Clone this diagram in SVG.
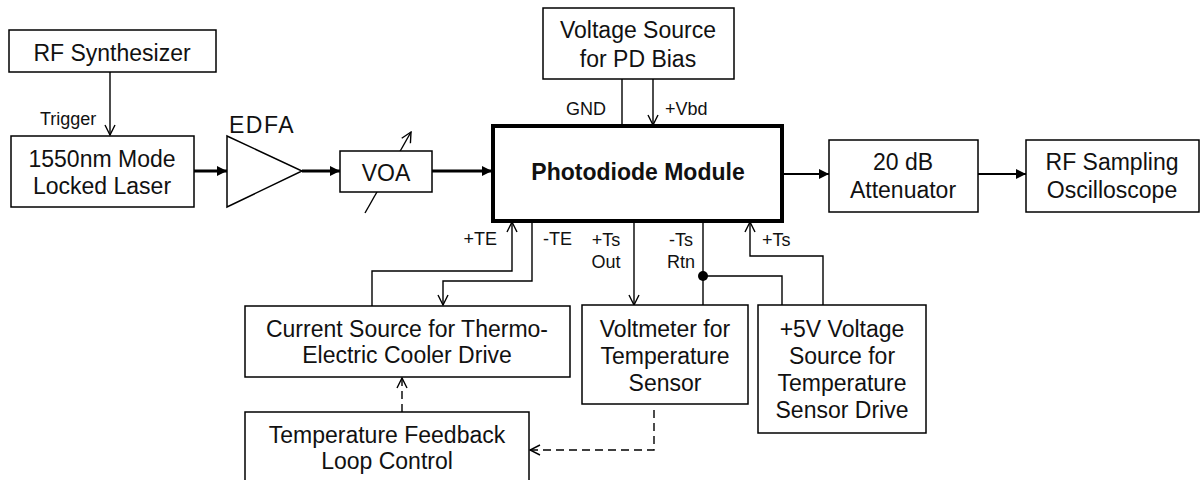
<svg xmlns="http://www.w3.org/2000/svg" width="1200" height="480" viewBox="0 0 1200 480">
<defs>
<style>
.box{fill:#fff;stroke:#000;stroke-width:1.5}
.pd{fill:#fff;stroke:#000;stroke-width:4}
.t{font-family:"Liberation Sans",Arial,sans-serif;font-size:23px;fill:#111;text-anchor:middle}
.b{font-weight:bold}
.s{font-family:"Liberation Sans",Arial,sans-serif;font-size:18px;fill:#111}
.w{fill:none;stroke:#000;stroke-width:1.4}
.sig{fill:none;stroke:#000;stroke-width:3}
.sig2{fill:none;stroke:#000;stroke-width:2}
.dash{fill:none;stroke:#000;stroke-width:1.4;stroke-dasharray:8,5}
</style>
<marker id="open" viewBox="0 0 12 12" refX="11" refY="6" markerWidth="12" markerHeight="12" markerUnits="userSpaceOnUse" orient="auto">
<path d="M1,1 L11,6 L1,11" fill="none" stroke="#000" stroke-width="1.4"/>
</marker>
<marker id="fill" viewBox="0 0 10 10" refX="10" refY="5" markerWidth="11" markerHeight="10" markerUnits="userSpaceOnUse" orient="auto">
<path d="M0,0 L10,5 L0,10 z" fill="#000"/>
</marker>
</defs>
<rect width="1200" height="480" fill="#fff"/>

<g id="connectors">
<line class="w" x1="110" y1="72" x2="110" y2="135" marker-end="url(#open)"/>
<line class="sig" x1="194" y1="171" x2="227" y2="171" marker-end="url(#fill)"/>
<line class="sig" x1="302" y1="171" x2="340" y2="171" marker-end="url(#fill)"/>
<line class="sig" x1="432" y1="171" x2="492" y2="171" marker-end="url(#fill)"/>
<line class="w" x1="365" y1="213" x2="411" y2="132" marker-end="url(#open)"/>
<line class="sig2" x1="783" y1="174" x2="829" y2="174" marker-end="url(#fill)"/>
<line class="sig2" x1="978" y1="174" x2="1026" y2="174" marker-end="url(#fill)"/>
<line class="w" x1="622" y1="79" x2="622" y2="126"/>
<line class="w" x1="653" y1="79" x2="653" y2="125" marker-end="url(#open)"/>
<polyline class="w" points="372,306 372,271 512,271 512,222" marker-end="url(#open)"/>
<polyline class="w" points="532,221 532,281 443,281 443,305" marker-end="url(#open)"/>
<line class="w" x1="634" y1="221" x2="634" y2="305" marker-end="url(#open)"/>
<line class="w" x1="703" y1="221" x2="703" y2="305"/>
<polyline class="w" points="703,276 782,276 782,305"/>
<circle cx="703" cy="276" r="5" fill="#000"/>
<polyline class="w" points="823,305 823,256 750,256 750,222" marker-end="url(#open)"/>
<line class="dash" x1="402" y1="412" x2="402" y2="378" marker-end="url(#open)"/>
<polyline class="dash" points="654,410 654,450 530,450" marker-end="url(#open)"/>
</g>

<g id="rf-synth">
<rect class="box" x="9" y="30" width="207" height="42"/>
<text class="t" x="112" y="61">RF Synthesizer</text>
</g>
<text class="s" x="40" y="125">Trigger</text>

<g id="laser">
<rect class="box" x="11" y="136" width="183" height="71"/>
<text class="t" x="102" y="167">1550nm Mode</text>
<text class="t" x="102" y="194">Locked Laser</text>
</g>

<g id="edfa">
<polygon class="box" points="227,136 227,207 302,171"/>
<text class="t" x="262" y="133" style="font-size:23px;letter-spacing:1.5px">EDFA</text>
</g>

<g id="voa">
<rect class="box" x="340" y="151" width="92" height="41"/>
<text class="t" x="386" y="181">VOA</text>
</g>

<g id="pd-bias">
<rect class="box" x="543" y="8" width="191" height="71"/>
<text class="t" x="638" y="38">Voltage Source</text>
<text class="t" x="638" y="67">for PD Bias</text>
</g>
<text class="s" x="606" y="115" text-anchor="end">GND</text>
<text class="s" x="665" y="115">+Vbd</text>

<g id="photodiode">
<rect class="pd" x="493" y="126" width="289" height="95"/>
<text class="t b" x="638" y="180">Photodiode Module</text>
</g>

<g id="attenuator">
<rect class="box" x="829" y="140" width="149" height="72"/>
<text class="t" x="903" y="170">20 dB</text>
<text class="t" x="903" y="198">Attenuator</text>
</g>

<g id="oscilloscope">
<rect class="box" x="1026" y="140" width="173" height="72"/>
<text class="t" x="1112" y="170">RF Sampling</text>
<text class="t" x="1112" y="198">Oscilloscope</text>
</g>

<text class="s" x="497" y="245" text-anchor="end">+TE</text>
<text class="s" x="543" y="245">-TE</text>
<text class="s" x="606" y="246" text-anchor="middle">+Ts</text>
<text class="s" x="606" y="268" text-anchor="middle">Out</text>
<text class="s" x="681" y="246" text-anchor="middle">-Ts</text>
<text class="s" x="681" y="268" text-anchor="middle">Rtn</text>
<text class="s" x="762" y="246">+Ts</text>

<g id="current-source">
<rect class="box" x="245" y="306" width="325" height="71"/>
<text class="t" x="407" y="337">Current Source for Thermo-</text>
<text class="t" x="407" y="363">Electric Cooler Drive</text>
</g>

<g id="voltmeter">
<rect class="box" x="582" y="305" width="166" height="99"/>
<text class="t" x="665" y="337">Voltmeter for</text>
<text class="t" x="665" y="364">Temperature</text>
<text class="t" x="665" y="391">Sensor</text>
</g>

<g id="ts-source">
<rect class="box" x="758" y="305" width="168" height="128"/>
<text class="t" x="842" y="337">+5V Voltage</text>
<text class="t" x="842" y="364">Source for</text>
<text class="t" x="842" y="391">Temperature</text>
<text class="t" x="842" y="418">Sensor Drive</text>
</g>

<g id="feedback">
<rect class="box" x="245" y="412" width="284" height="75"/>
<text class="t" x="387" y="443">Temperature Feedback</text>
<text class="t" x="387" y="469">Loop Control</text>
</g>
</svg>
